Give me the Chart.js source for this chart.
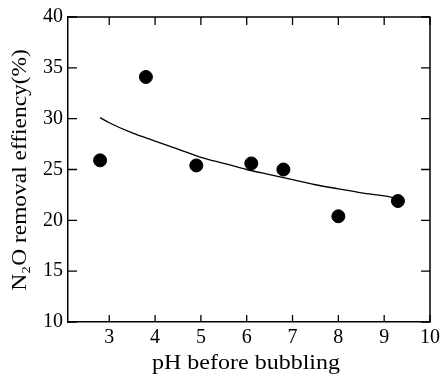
<!DOCTYPE html>
<html>
<head>
<meta charset="utf-8">
<script src="https://cdn.jsdelivr.net/npm/chart.js@4"></script>
<style>
body{margin:0;background:#fff}
</style>
</head>
<body>
<canvas id="myChart" width="444" height="380"></canvas>
<script>
// measured points
var phValues = [2.8, 3.8, 4.9, 6.1, 6.8, 8.0, 9.3];
var effValues = [25.9, 34.1, 25.4, 25.6, 25.0, 20.4, 21.9];

// fitted curve
var fitPh = [2.8, 3.0, 3.5, 4.0, 4.5, 5.0, 5.5, 6.0, 6.5, 7.0, 7.5, 8.0, 8.5, 9.0, 9.25];
var fitEff = [30.1, 29.6, 28.6, 27.8, 27.0, 26.2, 25.6, 25.0, 24.5, 24.0, 23.5, 23.1, 22.7, 22.4, 22.2];

var xTicks = [3, 4, 5, 6, 7, 8, 9, 10];
var yTicks = [10, 15, 20, 25, 30, 35, 40];

var serif = "'Liberation Serif', 'DejaVu Serif', serif";

function pts(xs, ys){
    var out = [];
    for(var i = 0; i < xs.length; i++){
        out.push({x: xs[i], y: ys[i]});
    }
    return out;
}

// inner ticks on all four sides + top/right frame + axis titles
var framePlugin = {
    id: "frame",
    afterDraw: function(chart){
        var ctx = chart.ctx;
        var a = chart.chartArea;
        var xs = chart.scales.x;
        var ys = chart.scales.y;
        ctx.save();
        ctx.strokeStyle = "#000";
        ctx.lineWidth = 1.5;
        ctx.beginPath();
        ctx.moveTo(a.left, a.top);
        ctx.lineTo(a.right, a.top);
        ctx.lineTo(a.right, a.bottom);
        ctx.stroke();
        ctx.lineWidth = 1.3;
        ctx.beginPath();
        for(var i = 0; i < xTicks.length; i++){
            var px = xs.getPixelForValue(xTicks[i]);
            ctx.moveTo(px, a.bottom);
            ctx.lineTo(px, a.bottom - 7);
            ctx.moveTo(px, a.top);
            ctx.lineTo(px, a.top + 8);
        }
        for(var j = 0; j < yTicks.length; j++){
            var py = ys.getPixelForValue(yTicks[j]);
            ctx.moveTo(a.left, py);
            ctx.lineTo(a.left + 9, py);
            ctx.moveTo(a.right, py);
            ctx.lineTo(a.right - 9, py);
        }
        ctx.stroke();

        ctx.fillStyle = "#000";
        ctx.font = "20px " + serif;
        ctx.textAlign = "center";
        ctx.textBaseline = "middle";
        ctx.save();
        ctx.translate(246, 364);
        ctx.scale(1.2, 1);
        ctx.fillText("pH before bubbling", 0, 0);
        ctx.restore();

        ctx.translate(21, 170);
        ctx.rotate(-Math.PI / 2);
        ctx.scale(1.17, 1);
        ctx.fillText("N\u2082O removal effiency(%)", 0, 0);
        ctx.restore();
    }
};

new Chart("myChart", {
    type: "scatter",
    data: {
        datasets: [{
            data: pts(phValues, effValues),
            backgroundColor: "#000",
            borderColor: "#000",
            pointRadius: 6.5,
            pointHoverRadius: 6.5
        }, {
            type: "line",
            data: pts(fitPh, fitEff),
            borderColor: "#000",
            borderWidth: 1.3,
            pointRadius: 0,
            fill: false,
            cubicInterpolationMode: "monotone"
        }]
    },
    options: {
        responsive: false,
        animation: false,
        layout: {padding: {top: 17, right: 12, left: 0, bottom: 0}},
        plugins: {legend: {display: false}, tooltip: {enabled: false}},
        scales: {
            x: {
                type: "linear",
                min: 2.1,
                max: 10,
                grid: {display: false, drawTicks: false},
                border: {display: true, color: "#000", width: 1.5},
                afterBuildTicks: function(s){
                    s.ticks = xTicks.map(function(v){ return {value: v}; });
                },
                afterFit: function(s){ s.height = 58; },
                ticks: {color: "#000", padding: 4, maxRotation: 0, font: {family: serif, size: 20}}
            },
            y: {
                min: 10,
                max: 40,
                grid: {display: false, drawTicks: false},
                border: {display: true, color: "#000", width: 1.5},
                afterBuildTicks: function(s){
                    s.ticks = yTicks.map(function(v){ return {value: v}; });
                },
                afterFit: function(s){ s.width = 68; },
                ticks: {color: "#000", padding: 5, font: {family: serif, size: 20}}
            }
        }
    },
    plugins: [framePlugin]
});
</script>
</body>
</html>
